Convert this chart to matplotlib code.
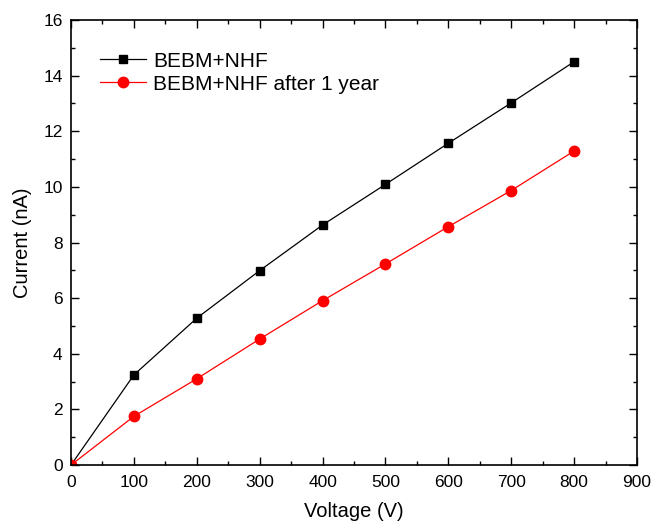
import matplotlib
matplotlib.use("Agg")
import matplotlib.pyplot as plt
from matplotlib.ticker import MultipleLocator

plt.rcParams['font.family'] = ['Liberation Sans', 'DejaVu Sans']

voltage = [0, 100, 200, 300, 400, 500, 600, 700, 800]
current_bebm = [0, 3.24, 5.28, 6.99, 8.63, 10.09, 11.57, 13.02, 14.50]
current_after = [0, 1.75, 3.10, 4.53, 5.91, 7.23, 8.57, 9.87, 11.29]
label_bebm = "BEBM+NHF"
label_after = "BEBM+NHF after 1 year"

fig = plt.figure(figsize=(6.54, 5.24), dpi=100)
ax = fig.add_axes([0.1086, 0.1126, 0.974 - 0.1086, 0.9618 - 0.1126])

ax.plot(voltage, current_bebm, color='black', lw=0.9, marker='s', markersize=6,
        label=label_bebm)
ax.plot(voltage, current_after, color='red', lw=0.9, marker='o', markersize=7.5,
        label=label_after)

ax.set_xlim(0, 900)
ax.set_ylim(0, 16)
ax.xaxis.set_major_locator(MultipleLocator(100))
ax.xaxis.set_minor_locator(MultipleLocator(50))
ax.yaxis.set_major_locator(MultipleLocator(2))
ax.yaxis.set_minor_locator(MultipleLocator(1))
ax.tick_params(which='both', direction='in', top=True, right=True, labelsize=12.5, width=1)
ax.tick_params(which='major', length=6)
ax.tick_params(which='minor', length=3)
ax.tick_params(axis='x', pad=7)
ax.tick_params(axis='y', pad=6)
for s in ax.spines.values():
    s.set_linewidth(1.2)

ax.set_xlabel("Voltage (V)", fontsize=14.5, labelpad=9)
ax.set_ylabel("Current (nA)", fontsize=14.5, labelpad=8)

ax.legend(loc='upper left', frameon=False, fontsize=15, handlelength=2.2,
          bbox_to_anchor=(0.051, 0.929), borderaxespad=0, borderpad=0,
          handletextpad=0.35, labelspacing=0.2)

fig.savefig("out.png", dpi=100)
